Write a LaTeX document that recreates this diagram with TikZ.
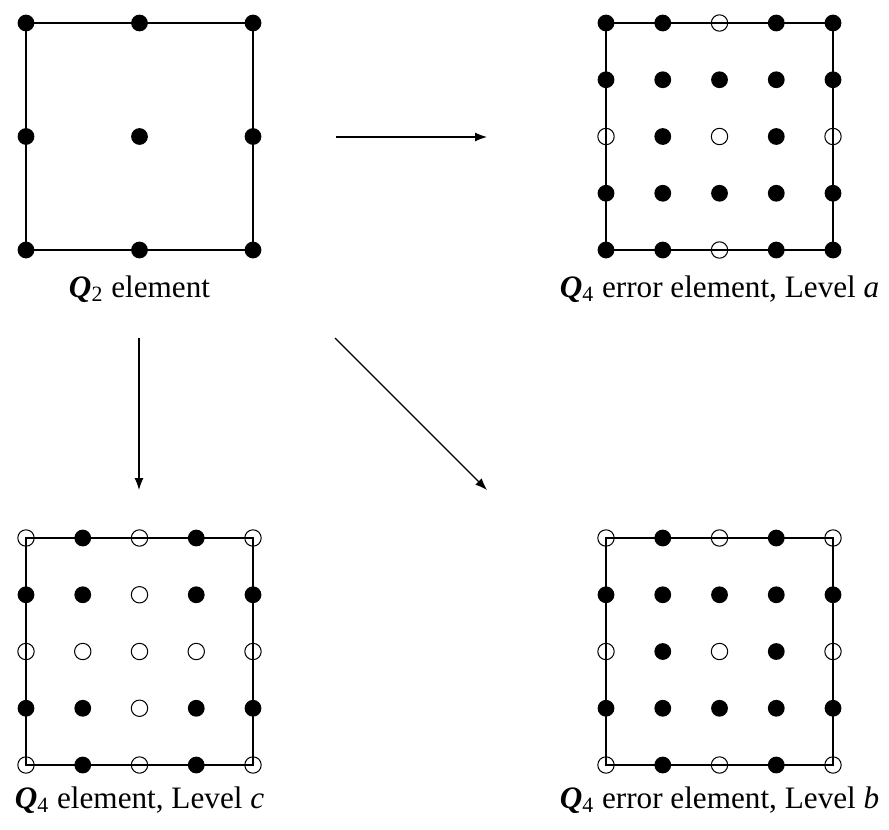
\documentclass[tikz,border=0pt]{standalone}
\usepackage{fontspec}
\setmainfont{Liberation Serif}
\usetikzlibrary{arrows.meta}
\tikzset{
    elem/.style={draw,line width=0.65pt},
    full/.style={fill=black},
    hole/.style={draw,line width=0.5pt},
    arr/.style={line width=0.55pt,-{Latex[length=6pt,width=4.5pt]}},
    caption/.style={anchor=base,inner sep=0pt,font=\fontsize{15.6}{18}\selectfont}
}
\newcommand{\Qb}[1]{\textbf{\textit{Q}}\textsubscript{#1}}
\begin{document}
\begin{tikzpicture}[x=0.5pt,y=-0.5pt]
\useasboundingbox (0,0) rectangle (889,830);

% Q2 element
\begin{scope}[shift={(26,23)}]
\draw[elem] (0,0) rectangle (227,227);
\foreach \i in {0,1,2}
    \foreach \j in {0,1,2}
        \fill[full] (113.5*\i,113.5*\j) circle (4.2pt);
\end{scope}
\node[caption] (lq2) at (139.5,297) {\Qb{2} element};

% Level a
\begin{scope}[shift={(606,23)}]
\draw[elem] (0,0) rectangle (227,227);
\foreach \i/\j in {0/0,1/0,3/0,4/0,0/1,1/1,2/1,3/1,4/1,1/2,3/2,0/3,1/3,2/3,3/3,4/3,0/4,1/4,3/4,4/4}
    \fill[full] (56.75*\i,56.75*\j) circle (4.2pt);
\foreach \i/\j in {2/0,0/2,2/2,4/2,2/4}
    \draw[hole] (56.75*\i,56.75*\j) circle (4.1pt);
\end{scope}
\node[caption] (lqa) at (719.5,297) {\Qb{4} error element, Level \textit{a}};

% Level c
\begin{scope}[shift={(26,538)}]
\draw[elem] (0,0) rectangle (227,227);
\foreach \i/\j in {1/0,3/0,0/1,1/1,3/1,4/1,0/3,1/3,3/3,4/3,1/4,3/4}
    \fill[full] (56.75*\i,56.75*\j) circle (4.2pt);
\foreach \i/\j in {0/0,2/0,4/0,2/1,0/2,1/2,2/2,3/2,4/2,2/3,0/4,2/4,4/4}
    \draw[hole] (56.75*\i,56.75*\j) circle (4.1pt);
\end{scope}
\node[caption] (lqc) at (139.5,808) {\Qb{4} element, Level \textit{c}};

% Level b
\begin{scope}[shift={(606,538)}]
\draw[elem] (0,0) rectangle (227,227);
\foreach \i/\j in {1/0,3/0,0/1,1/1,2/1,3/1,4/1,1/2,3/2,0/3,1/3,2/3,3/3,4/3,1/4,3/4}
    \fill[full] (56.75*\i,56.75*\j) circle (4.2pt);
\foreach \i/\j in {0/0,2/0,4/0,0/2,2/2,4/2,0/4,2/4,4/4}
    \draw[hole] (56.75*\i,56.75*\j) circle (4.1pt);
\end{scope}
\node[caption] (lqb) at (719.5,808) {\Qb{4} error element, Level \textit{b}};

% arrows
\coordinate (ha) at (336,137);
\coordinate (hb) at (487,137);
\coordinate (va) at (139,338);
\coordinate (vb) at (139,490);
\coordinate (da) at (335,338);
\coordinate (db) at (487,490);
\draw[arr] (ha) -- (hb);
\draw[arr] (va) -- (vb);
\draw[arr] (da) -- (db);
\end{tikzpicture}
\end{document}
